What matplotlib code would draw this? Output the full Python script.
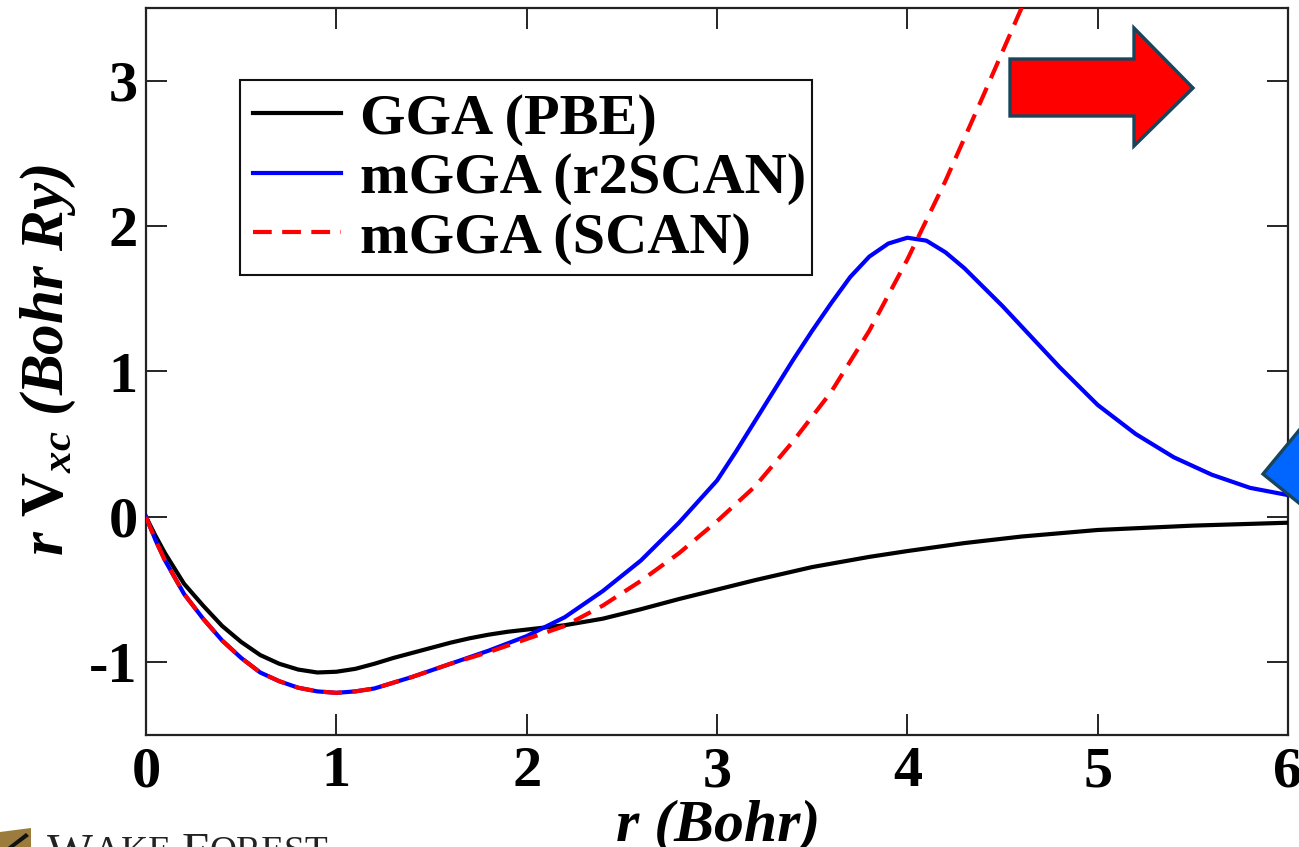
import matplotlib
matplotlib.use("Agg")
import matplotlib.pyplot as plt
from matplotlib.patches import Polygon, Rectangle
from matplotlib.lines import Line2D
from matplotlib.font_manager import FontProperties

# ---------------- data ----------------
r_pbe = [0, 0.05, 0.1, 0.2, 0.3, 0.4, 0.5, 0.6, 0.7, 0.8, 0.9, 1.0, 1.1, 1.2, 1.3, 1.4, 1.5,
         1.6, 1.7, 1.8, 1.9, 2.0, 2.2, 2.4, 2.6, 2.8, 3.0, 3.2, 3.5, 3.8, 4.0, 4.3, 4.6,
         5.0, 5.5, 6.0]
v_pbe = [0, -0.13, -0.25, -0.46, -0.61, -0.75, -0.86, -0.95, -1.01, -1.05, -1.07, -1.065,
         -1.045, -1.01, -0.97, -0.935, -0.90, -0.865, -0.835, -0.81, -0.79, -0.775, -0.745,
         -0.70, -0.635, -0.565, -0.50, -0.435, -0.345, -0.275, -0.235, -0.18, -0.135,
         -0.09, -0.06, -0.04]

r_r2scan = [0, 0.05, 0.1, 0.2, 0.3, 0.4, 0.5, 0.6, 0.7, 0.8, 0.9, 1.0, 1.1, 1.2, 1.4, 1.6, 1.8,
            2.0, 2.2, 2.4, 2.6, 2.8, 3.0, 3.1, 3.2, 3.3, 3.4, 3.5, 3.6, 3.7, 3.8, 3.9, 4.0,
            4.1, 4.2, 4.3, 4.4, 4.5, 4.6, 4.8, 5.0, 5.2, 5.4, 5.6, 5.8, 6.0]
v_r2scan = [0, -0.16, -0.30, -0.53, -0.70, -0.85, -0.97, -1.07, -1.13, -1.175, -1.20, -1.21,
            -1.20, -1.18, -1.10, -1.01, -0.92, -0.82, -0.69, -0.51, -0.30, -0.04, 0.25, 0.45,
            0.66, 0.87, 1.08, 1.28, 1.47, 1.65, 1.79, 1.88, 1.92, 1.90, 1.82, 1.71, 1.58,
            1.45, 1.31, 1.03, 0.77, 0.57, 0.41, 0.29, 0.20, 0.15]

r_scan = [0, 0.05, 0.1, 0.2, 0.3, 0.4, 0.5, 0.6, 0.7, 0.8, 0.9, 1.0, 1.1, 1.2, 1.4, 1.6, 1.8,
          2.0, 2.2, 2.4, 2.6, 2.8, 3.0, 3.2, 3.4, 3.6, 3.8, 4.0, 4.2, 4.4, 4.6, 4.7]
v_scan = [0, -0.16, -0.30, -0.53, -0.70, -0.85, -0.97, -1.07, -1.13, -1.175, -1.20, -1.21,
          -1.20, -1.18, -1.10, -1.01, -0.93, -0.84, -0.75, -0.61, -0.44, -0.25, -0.03, 0.21,
          0.52, 0.86, 1.28, 1.77, 2.31, 2.90, 3.50, 3.81]

labels = ["GGA (PBE)", "mGGA (r2SCAN)", "mGGA (SCAN)"]
x_ticks = [0, 1, 2, 3, 4, 5, 6]
y_ticks = [-1, 0, 1, 2, 3]

# ---------------- style ----------------
W, H = 1299, 847
plt.rcParams['mathtext.fontset'] = 'custom'
plt.rcParams['mathtext.rm'] = 'Liberation Serif:bold'
plt.rcParams['mathtext.bf'] = 'Liberation Serif:bold'
plt.rcParams['mathtext.it'] = 'Liberation Serif:italic:bold'
serif = 'Liberation Serif'

fig = plt.figure(figsize=(W / 100, H / 100), dpi=100)
fig.patch.set_facecolor('white')

def fx(px):
    return px / W

def fy(py):
    return 1 - py / H

ax = fig.add_axes([fx(146), fy(735), (1288 - 146) / W, (735 - 8) / H])

ax.plot(r_pbe, v_pbe, color='black', lw=3.0, zorder=3)
ax.plot(r_r2scan, v_r2scan, color='#0000ff', lw=3.0, zorder=3)
ax.plot(r_scan, v_scan, color='#ff0000', lw=3.0, dashes=(4.5, 2.5), zorder=3)

ax.set_xlim(0, 6)
ax.set_ylim(-1.5, 3.5)
ax.set_xticks(x_ticks)
ax.set_yticks(y_ticks)
ax.set_xticklabels([str(t) for t in x_ticks])
ax.set_yticklabels([str(t) for t in y_ticks])
ax.tick_params(direction='in', length=15, width=1.2, top=True, right=True,
               labelsize=42, colors='black')
ax.tick_params(axis='x', pad=8)
ax.tick_params(axis='y', pad=6)
for lab in ax.get_xticklabels() + ax.get_yticklabels():
    lab.set_fontfamily(serif)
    lab.set_fontweight('bold')
for sp in ax.spines.values():
    sp.set_linewidth(1.6)
    sp.set_color('#222222')

# axis labels
fig.text(fx(718), fy(840), "r (Bohr)", ha='center', va='baseline',
         fontsize=43, fontfamily=serif, fontweight='bold', fontstyle='italic')
fig.text(fx(48), fy(360), r"r $\mathbf{V}_{xc}$ (Bohr Ry)", rotation=90,
         ha='center', va='center', fontsize=44, fontfamily=serif,
         fontweight='bold', fontstyle='italic')

# legend
ax.add_patch(Rectangle((fx(240), fy(275)), (812 - 240) / W, (275 - 80) / H,
                       transform=fig.transFigure, facecolor='white',
                       edgecolor='#111111', lw=1.5, zorder=4, clip_on=False))
handles = [Line2D([], [], color='black', lw=3.0),
           Line2D([], [], color='#0000ff', lw=3.0),
           Line2D([], [], color='#ff0000', lw=3.0, dashes=(4.5, 2.5))]
leg = ax.legend(handles, labels, loc='upper left',
                bbox_to_anchor=(fx(253), fy(93)), bbox_transform=fig.transFigure,
                frameon=False, borderpad=0, borderaxespad=0,
                handlelength=1.5, handletextpad=0.34, labelspacing=0.11,
                prop=FontProperties(family=serif, weight='bold', size=42))
leg.set_zorder(5)

# decorative arrows
red_arrow = [(1010, 59), (1134, 59), (1134, 28), (1193, 88), (1134, 146),
             (1134, 116), (1010, 116)]
fig.add_artist(Polygon([(fx(x), fy(y)) for x, y in red_arrow], closed=True,
                       transform=fig.transFigure, facecolor='#ff0000',
                       edgecolor='#17455c', lw=2.4, zorder=10))
blue_arrow = [(1263, 474), (1320, 405), (1320, 520)]
fig.add_artist(Polygon([(fx(x), fy(y)) for x, y in blue_arrow], closed=True,
                       transform=fig.transFigure, facecolor='#0066ff',
                       edgecolor='#17455c', lw=2.4, zorder=10))

# logo fragment at bottom-left
fig.add_artist(Polygon([(fx(0), fy(832)), (fx(31), fy(828)), (fx(31), fy(850)),
                        (fx(0), fy(850))], closed=True, transform=fig.transFigure,
                       facecolor='#9c7c3c', edgecolor='none', zorder=10))
fig.add_artist(Polygon([(fx(4), fy(850)), (fx(26), fy(833)), (fx(29), fy(836)),
                        (fx(10), fy(850))], closed=True, transform=fig.transFigure,
                       facecolor='#111111', edgecolor='none', zorder=11))
fig.canvas.draw()
renderer = fig.canvas.get_renderer()
xpos = 47
for piece, size in [("W", 35), ("AKE ", 27), ("F", 35), ("OREST", 27)]:
    t = fig.text(fx(xpos), fy(832 + (0 if size == 35 else 3)), piece, ha='left', va='top',
                 fontsize=size, fontfamily=serif, color='#222222')
    bb = t.get_window_extent(renderer)
    xpos += bb.width + 1

fig.savefig("out.png", dpi=100, facecolor='white')
